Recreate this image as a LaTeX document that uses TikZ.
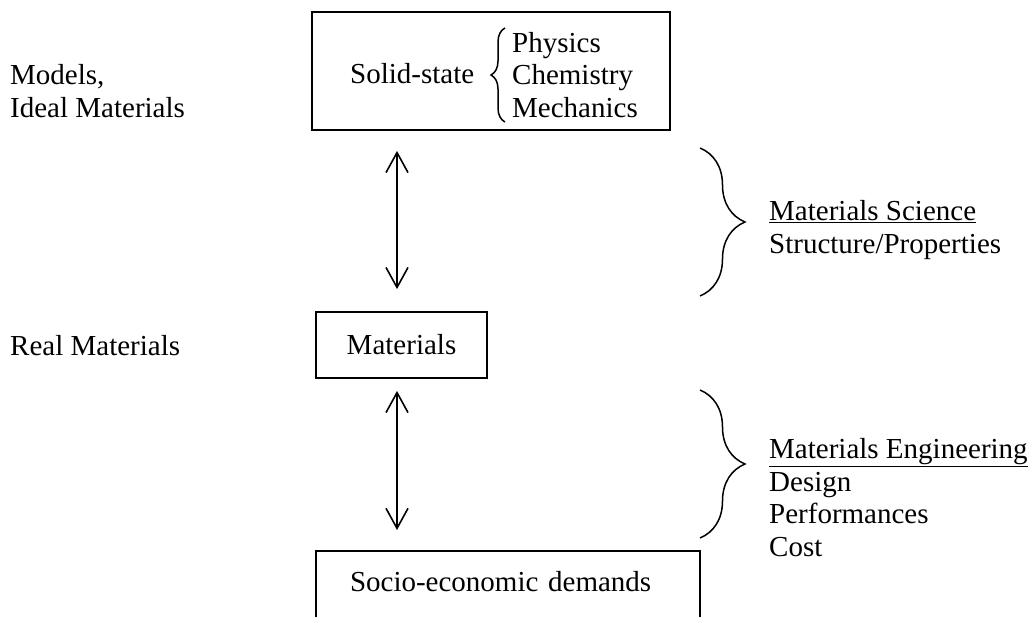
\documentclass[tikz,border=0pt]{standalone}
\usepackage{fontspec}
\setmainfont{Liberation Serif}
\usetikzlibrary{arrows.meta,decorations.pathreplacing,positioning}

\begin{document}
\begin{tikzpicture}[x=1pt,y=-1pt]
\tikzstyle{every node}+=[font=\fontsize{29}{32.5}\selectfont, inner sep=0pt]
\tikzstyle{box}=[draw, line width=1.8pt]
\tikzstyle{txt}=[anchor=base west, align=left]
\tikzstyle{dblarrow}=[{Straight Barb[length=20pt,width=22pt]}-{Straight Barb[length=20pt,width=22pt]}, line width=1.6pt]
\tikzstyle{brc}=[decorate, decoration={brace, amplitude=45pt}, line width=1.5pt]

\useasboundingbox (0,0) rectangle (1035,616);

\node[box, minimum width=358pt, minimum height=118pt] (solid) at (491,71) {};
\node[box, minimum width=171pt, minimum height=66pt] (mat) at (401.5,345) {Materials};
\node[box, anchor=north, inner xsep=34pt, text width=316pt, align=left, text height=41pt, text depth=80pt] (socio) at (508,550) {Socio-economic demands};

% base anchor = last line
\node[txt] (solidstate) at (350,83) {Solid-state};
\node[txt] (fields) at (512,117) {Physics\\Chemistry\\Mechanics};
\coordinate (sbot) at (505,122);
\coordinate (stop) at (505,28);
\draw[brc, decoration={amplitude=14pt}] (sbot) -- (stop);

\node[txt] (models) at (10,117) {Models,\\Ideal Materials};
\node[txt] (real) at (10,355) {Real Materials};

\node[txt] (science) at (769,253) {\underline{Materials Science}\\Structure/Properties};
\node[txt] (engin) at (769,556) {\underline{Materials Engineering}\\Design\\Performances\\Cost};

\coordinate (b1top) at (700,148);
\coordinate (b1bot) at (700,296);
\coordinate (b2top) at (700,390);
\coordinate (b2bot) at (700,538);
\draw[brc] (b1top) -- (b1bot);
\draw[brc] (b2top) -- (b2bot);

\coordinate (a1) at ([xshift=-4.5pt]mat.north);
\coordinate (a2) at ([xshift=-4.5pt]mat.south);
\draw[dblarrow, shorten <=20pt, shorten >=22pt] (a1 |- solid.south) -- (a1);
\draw[dblarrow, shorten <=12pt, shorten >=20pt] (a2) -- (a2 |- socio.north);
\end{tikzpicture}
\end{document}
